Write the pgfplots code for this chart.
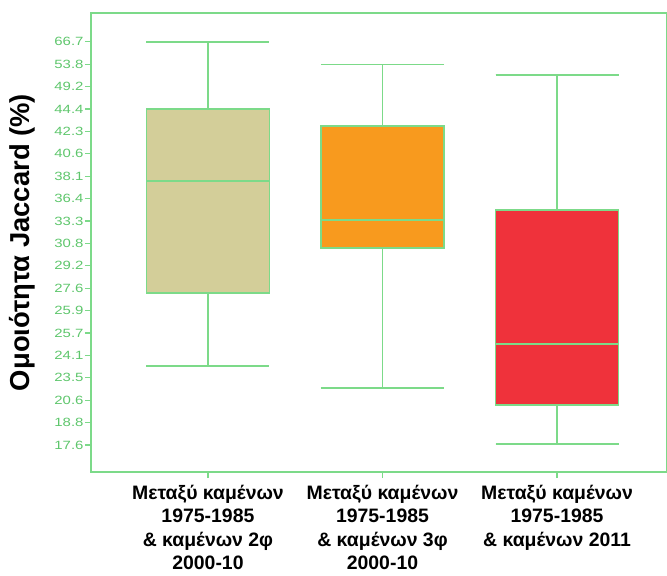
\documentclass[border=0pt]{standalone}
\usepackage{pgfplots}
\pgfplotsset{compat=1.18}
\usepgfplotslibrary{statistics}
\usepackage{fontspec}
\setmainfont{Liberation Sans}
\definecolor{lg}{HTML}{7CDA89}
\definecolor{tg}{HTML}{5EC66C}
\definecolor{cA}{HTML}{D3CE99}
\definecolor{cB}{HTML}{F89A1E}
\definecolor{cC}{HTML}{EF323B}
\begin{document}
\begin{tikzpicture}
\path[use as bounding box] (-91bp,-104bp) rectangle (576bp,472bp);
\begin{axis}[
  at={(0,0)}, anchor=south west,
  scale only axis, width=576bp, height=459bp,
  xmin=-0.67, xmax=2.63, ymin=-1.21, ymax=19.29,
  axis line style={lg, line width=1.2bp},
  tick style={lg, line width=1.2bp},
  tick align=outside, tick pos=left, major tick length=6bp,
  ytick={0,...,18},
  yticklabels={17.6,18.8,20.6,23.5,24.1,25.7,25.9,27.6,29.2,30.8,33.3,36.4,38.1,40.6,42.3,44.4,49.2,53.8,66.7},
  yticklabel style={tg, font=\fontsize{12}{14}\selectfont, inner xsep=1bp, xscale=1.25},
  xtick={0,1,2},
  xticklabels={{Μεταξύ καμένων\\1975-1985\\\& καμένων 2φ\\2000-10},{Μεταξύ καμένων\\1975-1985\\\& καμένων 3φ\\2000-10},{Μεταξύ καμένων\\1975-1985\\\& καμένων 2011}},
  xticklabel style={align=center, font=\bfseries\fontsize{19.5}{23.6}\selectfont, anchor=north, yshift=-5bp, inner ysep=1.5bp},
  ylabel={Ομοιότητα Jaccard (\%)},
  every axis y label/.style={at={(axis description cs:-0.12,0.5)}, rotate=90, anchor=center, font=\bfseries\fontsize{27.5}{30}\selectfont},
  boxplot/draw direction=y,
  boxplot/box extend=0.705,
  boxplot/whisker extend=0.705,
]
\addplot[draw=lg, fill=cA, line width=1.5bp, boxplot prepared={draw position=0, lower whisker=3.53, lower quartile=6.79, median=11.79, upper quartile=15, upper whisker=18}] coordinates {};
\addplot[draw=lg, fill=cB, line width=1.5bp, boxplot prepared={draw position=1, lower whisker=2.55, lower quartile=8.8, median=10.05, upper quartile=14.25, upper whisker=17}] coordinates {};
\addplot[draw=lg, fill=cC, line width=1.5bp, boxplot prepared={draw position=2, lower whisker=0.04, lower quartile=1.79, median=4.51, upper quartile=10.5, upper whisker=16.53}] coordinates {};
\end{axis}
\end{tikzpicture}
\end{document}
